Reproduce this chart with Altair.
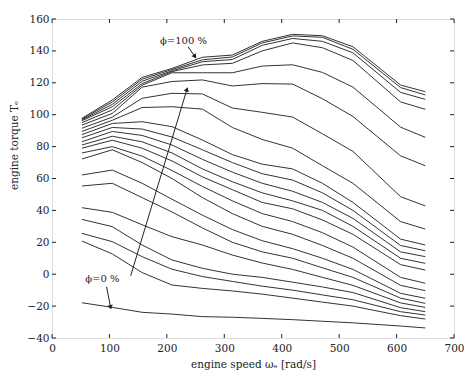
import altair as alt
import pandas as pd

# engine speed grid [rad/s]
omega = [52, 105, 157, 209, 262, 314, 366, 419, 471, 524, 607, 650]

# torque curves, top (phi=100 %) to bottom (phi=0 %)
curves = [
    [97.7, 109.2, 123.4, 129, 136, 137.4, 146, 150.4, 149.5, 142.6, 118.6, 114.4],
    [97.3, 108, 122.3, 128.3, 134.4, 136.2, 145, 149.4, 148.5, 141, 117, 112.4],
    [96.8, 106.5, 121, 127.5, 133.2, 134.6, 143.5, 147.8, 146, 138.8, 114, 109.6],
    [96.2, 105, 119.5, 127, 131.2, 132.2, 140, 145, 142, 134, 108, 103.4],
    [95, 103, 118.5, 126.3, 126.3, 126.3, 130.5, 131.3, 126.5, 117.3, 92.2, 85.8],
    [93.5, 100.8, 117.3, 120.8, 121.8, 118, 119.5, 119.2, 110, 98.9, 74.2, 68],
    [91.5, 98.5, 110.3, 113.4, 113, 104.2, 101.5, 98.5, 88, 77, 48.6, 42.8],
    [89.5, 96.5, 104.5, 105, 103.5, 92, 84.5, 79, 68, 57, 33, 28.3],
    [87.5, 94.5, 95.6, 92.5, 84.1, 75, 69, 66, 57, 45, 22, 18.3],
    [85.5, 92, 91, 86, 78, 70, 63, 59, 51, 40, 18, 14.7],
    [83, 89.5, 87, 81, 72, 64, 57, 52, 45, 35, 14, 11],
    [81, 86.5, 83, 76, 66, 58, 51, 46, 40, 30, 10, 6.8],
    [79, 84, 79, 71, 61, 53, 45, 41, 34, 25, 6, 2.6],
    [76, 80, 74, 65, 55, 46, 38, 33, 26, 17, -2, -5.7],
    [72.2, 78, 70, 60, 48, 38, 30, 25, 18, 10, -7, -10.3],
    [62.2, 65.3, 57, 47, 37, 28, 21, 16, 10, 3, -12, -15.1],
    [55.3, 57, 48, 39, 29, 20, 14, 10, 4, -2, -15, -18.3],
    [41.7, 38.8, 31, 23.5, 18.3, 12, 7, 3, -2, -7, -18, -20.8],
    [34.4, 29.8, 18.3, 8.9, 3.7, 0, -2, -5, -8, -11.5, -21, -23.5],
    [25.6, 20.4, 11, 3.1, -1.5, -4.5, -7.5, -10, -13, -16, -23.5, -25.6],
    [20.8, 12.7, 1, -6.8, -8.9, -10.5, -12.5, -15, -17.5, -20, -26, -28.1],
    [-17.9, -20.8, -23.9, -25, -26.6, -27, -27.7, -28.5, -29.5, -30.5, -32.5, -33.7],
]

x_ticks = [0, 100, 200, 300, 400, 500, 600, 700]
y_ticks = [-40, -20, 0, 20, 40, 60, 80, 100, 120, 140, 160]

# annotations
arrow_main = {"x": [137, 235], "y": [-1, 115.9]}
arrow_100 = {"x": [237, 249], "y": [142.6, 136.4]}
arrow_0 = {"x": [95, 102], "y": [-7.8, -20.8]}
label_100 = {"x": 229, "y": 146, "text": "ϕ=100 %"}
label_0 = {"x": 58, "y": -3, "text": "ϕ=0 %"}

W, H = 402, 319
FONT = "DejaVu Serif"
INK = "#222222"

rows = []
for i, c in enumerate(curves):
    for w, t in zip(omega, c):
        rows.append({"id": i, "w": w, "T": t})
df = pd.DataFrame(rows)

xs = alt.Scale(domain=[0, 700], nice=False)
ys = alt.Scale(domain=[-40, 160], nice=False)

xaxis = alt.Axis(values=x_ticks, ticks=False, domain=False, grid=False,
                 labelFont=FONT, labelFontSize=10.5, labelColor=INK, labelPadding=5,
                 labelOverlap=False, labelFlush=False, labelBound=False,
                 title="engine speed ωₑ [rad/s]", titleFont=FONT, titleFontSize=10.5,
                 titleFontWeight="normal", titleColor=INK, titlePadding=6)
yaxis = alt.Axis(values=y_ticks, ticks=False, domain=False, grid=False,
                 labelFont=FONT, labelFontSize=10.5, labelColor=INK, labelPadding=3,
                 labelOverlap=False, labelFlush=False, labelBound=False,
                 title="engine torque Tₑ", titleFont=FONT, titleFontSize=10.5,
                 titleFontWeight="normal", titleColor=INK, titlePadding=7,
                 titleY=126)


def X(field):
    return alt.X(field, scale=xs, axis=xaxis)


def Y(field):
    return alt.Y(field, scale=ys, axis=yaxis)


lines = alt.Chart(df).mark_line(color="#333333", strokeWidth=1).encode(
    x=X("w:Q"),
    y=Y("T:Q"),
    detail="id:N",
    order="w:Q",
)

tx = pd.DataFrame({"v": x_ticks})
ty = pd.DataFrame({"v": y_ticks})
tick_b = alt.Chart(tx).mark_rule(color=INK, strokeWidth=1).encode(
    x=X("v:Q"), y=alt.value(H - 4), y2=alt.value(H))
tick_t = alt.Chart(tx).mark_rule(color=INK, strokeWidth=1).encode(
    x=X("v:Q"), y=alt.value(0), y2=alt.value(4))
tick_l = alt.Chart(ty).mark_rule(color=INK, strokeWidth=1).encode(
    y=Y("v:Q"), x=alt.value(0), x2=alt.value(4))
tick_r = alt.Chart(ty).mark_rule(color=INK, strokeWidth=1).encode(
    y=Y("v:Q"), x=alt.value(W - 4), x2=alt.value(W))


def arrow(d, angle):
    seg = pd.DataFrame({"x": d["x"], "y": d["y"], "o": [0, 1]})
    line = alt.Chart(seg).mark_line(color=INK, strokeWidth=1).encode(
        x=X("x:Q"), y=Y("y:Q"), order="o:Q")
    head = alt.Chart(pd.DataFrame({"x": [d["x"][1]], "y": [d["y"][1]]})).mark_point(
        shape="triangle-up", filled=True, color=INK, size=28, angle=angle, opacity=1
    ).encode(x=X("x:Q"), y=Y("y:Q"))
    return line + head


def label(d, align):
    return alt.Chart(pd.DataFrame([d])).mark_text(
        font=FONT, fontSize=10, color=INK, align=align, baseline="middle"
    ).encode(x=X("x:Q"), y=Y("y:Q"), text="text:N")


chart = alt.layer(
    lines, tick_b, tick_t, tick_l, tick_r,
    arrow(arrow_main, 17), arrow(arrow_100, 145), arrow(arrow_0, 169),
    label(label_100, "center"), label(label_0, "left"),
).properties(
    width=W, height=H,
    autosize=alt.AutoSizeParams(type="none"),
    padding={"left": 44, "top": 11, "right": 10, "bottom": 42},
).configure_view(stroke=INK, strokeWidth=1).configure(background="white")

chart.save("out.html", embed_options={"renderer": "svg", "actions": False})
